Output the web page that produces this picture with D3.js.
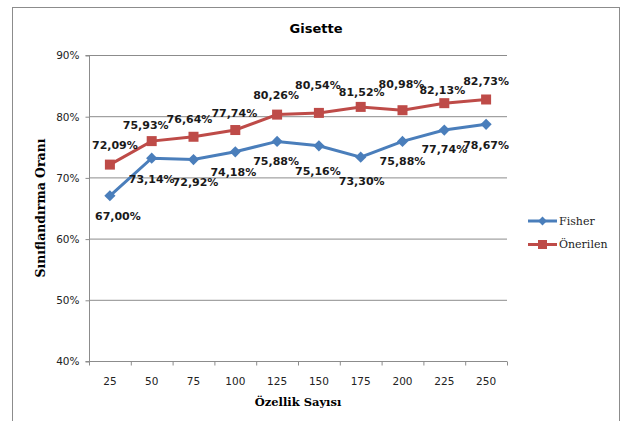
<!DOCTYPE html>
<html><head><meta charset="utf-8">
<script src="https://cdn.jsdelivr.net/npm/d3@7"></script>
<style>body{margin:0;background:#fff}svg{display:block}</style>
</head><body>
<script>
const categories = [25, 50, 75, 100, 125, 150, 175, 200, 225, 250];
const fisher = [67.00, 73.14, 72.92, 74.18, 75.88, 75.16, 73.30, 75.88, 77.74, 78.67];
const onerilen = [72.09, 75.93, 76.64, 77.74, 80.26, 80.54, 81.52, 80.98, 82.13, 82.73];
const yTicks = [40, 50, 60, 70, 80, 90];
const seriesNames = ["Fisher", "Önerilen"];
// label nudges (dx, dy) relative to each point, as in the reference
const fisherNudge = [[8,20],[0,21],[2,23],[-2,20],[-1,20],[-1,25],[1,24],[0,20],[0,19],[0,21]];
const onerilenNudge = [[5,-19],[-6,-16],[-4,-18],[-1,-17],[-1,-19],[-1,-28],[1,-15],[-1,-26],[-2,-13],[0,-18]];

const W = 626, H = 421;
const svg = d3.select("body").append("svg").attr("width", W).attr("height", H);
svg.append("rect").attr("x", 12.5).attr("y", 7.5).attr("width", 607).attr("height", 430)
  .attr("fill", "#fff").attr("stroke", "#8c8c8c");

const L = 89, R = 507, T = 55, B = 361;
const x = d3.scaleBand().domain(categories).range([L, R]);
const y = d3.scaleLinear().domain([40, 90]).range([B, T]);
const fmt = v => v.toFixed(2).replace(".", ",") + "%";

// gridlines
svg.append("g").selectAll("line").data(yTicks.slice(1)).join("line")
  .attr("x1", L).attr("x2", R).attr("y1", d => y(d) + 0.5).attr("y2", d => y(d) + 0.5)
  .attr("stroke", "#8c8c8c").attr("stroke-width", 1);

// y axis
const yAxis = d3.axisLeft(y).tickValues(yTicks).tickFormat(d => d + "%").tickSize(4).tickPadding(6);
const gy = svg.append("g").attr("transform", `translate(${L + 0.5},0.5)`).call(yAxis);
gy.select(".domain").attr("stroke", "#8c8c8c").attr("d", `M-4,${T}H0V${B}H-4`);
gy.selectAll(".tick line").attr("stroke", "#8c8c8c");
gy.selectAll("text").attr("font-family", "DejaVu Sans").attr("font-size", 10.5).attr("fill", "#222");

// x axis
const xAxis = d3.axisBottom(x).tickSize(0).tickPadding(16);
const gx = svg.append("g").attr("transform", `translate(0,${B + 0.5})`).call(xAxis);
gx.select(".domain").attr("stroke", "#8c8c8c").attr("d", `M${L},0H${R}`);
gx.selectAll("text").attr("font-family", "DejaVu Sans").attr("font-size", 10.5).attr("fill", "#222");
gx.selectAll(".bnd").data(categories.concat([null])).join("line").attr("class", "bnd")
  .attr("x1", (d, i) => L + i * x.step() + 0.5).attr("x2", (d, i) => L + i * x.step() + 0.5)
  .attr("y1", 0).attr("y2", 4).attr("stroke", "#8c8c8c");

const cx = d => x(d) + x.bandwidth() / 2;
const line = d3.line().x((d, i) => cx(categories[i])).y(d => y(d));

const blue = "#4A7EBB", red = "#BE4B48";
svg.append("path").datum(fisher).attr("d", line).attr("fill", "none").attr("stroke", blue).attr("stroke-width", 3);
svg.append("path").datum(onerilen).attr("d", line).attr("fill", "none").attr("stroke", red).attr("stroke-width", 3);

const diamond = d3.symbol().type(d3.symbolDiamond2).size(80);
svg.append("g").selectAll("path").data(fisher).join("path")
  .attr("d", diamond).attr("transform", (d, i) => `translate(${cx(categories[i])},${y(d)})`).attr("fill", blue);
svg.append("g").selectAll("rect").data(onerilen).join("rect")
  .attr("x", (d, i) => cx(categories[i]) - 5).attr("y", d => y(d) - 5)
  .attr("width", 10).attr("height", 10).attr("fill", red);

function labels(data, nudge) {
  svg.append("g").selectAll("text").data(data).join("text")
    .attr("x", (d, i) => cx(categories[i]) + nudge[i][0])
    .attr("y", (d, i) => y(d) + nudge[i][1])
    .attr("dy", "0.35em").attr("text-anchor", "middle")
    .attr("font-family", "DejaVu Sans").attr("font-weight", "bold").attr("font-size", 11)
    .attr("fill", "#1a1a1a").text(fmt);
}
labels(onerilen, onerilenNudge);
labels(fisher, fisherNudge);

// title
svg.append("text").attr("x", 316).attr("y", 33).attr("text-anchor", "middle")
  .attr("font-family", "DejaVu Sans").attr("font-weight", "bold").attr("font-size", 13).text("Gisette");
// axis titles
svg.append("text").attr("transform", `translate(45,208) rotate(-90)`).attr("text-anchor", "middle")
  .attr("font-family", "DejaVu Serif").attr("font-weight", "bold").attr("font-size", 12.5).text("Sınıflandırma Oranı");
svg.append("text").attr("x", 298).attr("y", 406).attr("text-anchor", "middle")
  .attr("font-family", "DejaVu Serif").attr("font-weight", "bold").attr("font-size", 11.5).text("Özellik Sayısı");

// legend
const lg = svg.append("g");
[blue, red].forEach((c, i) => {
  const yy = 221 + i * 23.5;
  lg.append("line").attr("x1", 528).attr("x2", 557).attr("y1", yy).attr("y2", yy).attr("stroke", c).attr("stroke-width", 3);
  if (i === 0) lg.append("path").attr("d", d3.symbol().type(d3.symbolDiamond2).size(50)).attr("transform", `translate(542.5,${yy})`).attr("fill", c);
  else lg.append("rect").attr("x", 538).attr("y", yy - 4.5).attr("width", 9).attr("height", 9).attr("fill", c);
  lg.append("text").attr("x", 559).attr("y", yy).attr("dy", "0.35em")
    .attr("font-family", "DejaVu Serif").attr("font-size", 11).attr("fill", "#222").text(seriesNames[i]);
});
</script>
</body></html>
